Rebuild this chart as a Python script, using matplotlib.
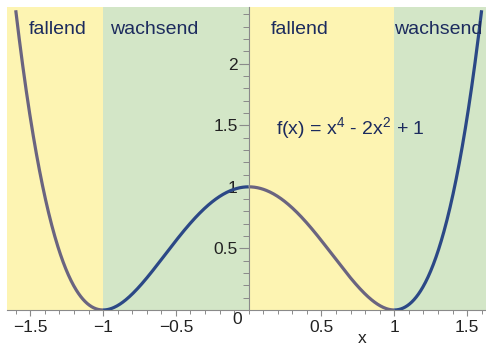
import numpy as np
import matplotlib
matplotlib.use('Agg')
import matplotlib.pyplot as plt
from matplotlib.ticker import MultipleLocator, FixedLocator

plt.rcParams['font.family'] = ['Liberation Sans', 'DejaVu Sans']
plt.rcParams['mathtext.default'] = 'regular'

# Monotonie-Bereiche von f(x) = x^4 - 2x^2 + 1
bereich_grenzen = [-1.66, -1.0, 0.0, 1.0, 1.63]
bereich_namen = ['fallend', 'wachsend', 'fallend', 'wachsend']
bereich_farben = ['#fdf4b2', '#d3e6c7', '#fdf4b2', '#d3e6c7']
kurven_farben = ['#6a6480', '#2b4886', '#6a6480', '#2b4886']
label_x = [-1.51, -0.95, 0.15, 1.0]

x_ticks = [-1.5, -1.0, -0.5, 0.5, 1.0, 1.5]
x_ticklabels = ['\u22121.5', '\u22121', '\u22120.5', '0.5', '1', '1.5']
y_ticks = [0.5, 1.0, 1.5, 2.0]
y_ticklabels = ['0.5', '1', '1.5', '2']

x_min, x_max = -1.6, 1.6


def f(x):
    return x**4 - 2 * x**2 + 1


fig = plt.figure(figsize=(4.86, 3.45), dpi=100)
ax = fig.add_axes([7 / 486, 35 / 345, 479 / 486, 303 / 345])
ax.set_xlim(bereich_grenzen[0], bereich_grenzen[-1])
ax.set_ylim(0, 2.46)

textfarbe = '#1c2b5e'
for i in range(4):
    a, b = bereich_grenzen[i], bereich_grenzen[i + 1]
    ax.axvspan(a, b, color=bereich_farben[i], zorder=0, lw=0)
    xs = np.linspace(max(a, x_min), min(b, x_max), 200)
    ax.plot(xs, f(xs), color=kurven_farben[i], lw=2.3, solid_capstyle='butt', zorder=3)
    ax.text(label_x[i], 2.275, bereich_namen[i], fontsize=14, color=textfarbe,
            ha='left', va='center', zorder=4)

ax.text(0.185, 1.48, r'f(x) = x$^4$ - 2x$^2$ + 1', fontsize=14, color=textfarbe,
        ha='left', va='center', zorder=4)

# Achsen durch den Ursprung
for s in ('top', 'right'):
    ax.spines[s].set_visible(False)
ax.spines['left'].set_position(('data', 0))
ax.spines['bottom'].set_position(('data', 0))
for s in ('left', 'bottom'):
    ax.spines[s].set_color('#8a8a8a')
    ax.spines[s].set_linewidth(0.8)
    ax.spines[s].set_zorder(5)

ax.xaxis.set_major_locator(FixedLocator(x_ticks))
ax.set_xticklabels(x_ticklabels)
ax.xaxis.set_minor_locator(MultipleLocator(0.1))
ax.yaxis.set_major_locator(FixedLocator(y_ticks))
ax.set_yticklabels(y_ticklabels)
ax.yaxis.set_minor_locator(MultipleLocator(0.1))

ax.tick_params(axis='x', which='major', direction='out', length=4, width=0.8,
               color='#8a8a8a', labelsize=12.5, labelcolor='#222222', pad=3)
ax.tick_params(axis='x', which='minor', direction='out', length=3, width=0.7,
               color='#8a8a8a')
ax.tick_params(axis='y', which='major', direction='out', length=7, width=0.8,
               color='#8a8a8a', labelsize=12.5, labelcolor='#222222', pad=1)
ax.tick_params(axis='y', which='minor', direction='out', length=4, width=0.7,
               color='#8a8a8a')

ax.text(-0.08, -0.08, '0', fontsize=12.5, color='#222222', ha='center', va='center',
        clip_on=False)
ax.text(0.78, -0.23, 'x', fontsize=12.5, color='#222222', ha='center', va='center',
        clip_on=False)

fig.savefig('out.png', dpi=100)
